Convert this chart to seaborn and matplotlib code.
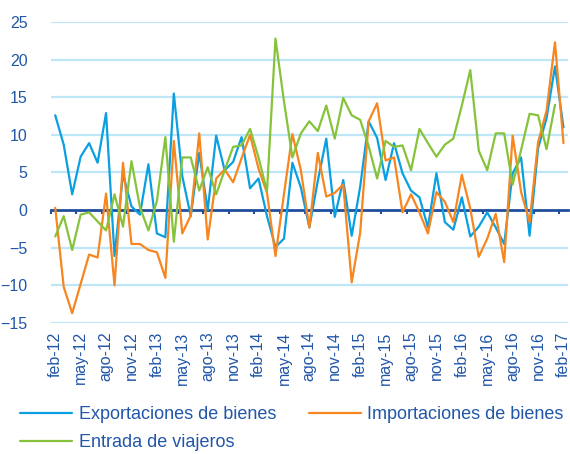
import numpy as np
import pandas as pd
import matplotlib
matplotlib.use("Agg")
import matplotlib.pyplot as plt
import seaborn as sns
from matplotlib.lines import Line2D

# ---------------- data ----------------
month_abbr = ["ene", "feb", "mar", "abr", "may", "jun", "jul", "ago", "sep", "oct", "nov", "dic"]
start_year, start_month, n_months = 2012, 2, 61

exportaciones = [12.6, 8.7, 2.1, 7.1, 8.9, 6.3, 12.9, -6.1, 4.8, 0.5,
                 -0.6, 6.1, -3.1, -3.6, 15.5, 4.5, -0.8, 7.6, 0.0, 9.9,
                 5.3, 6.4, 9.7, 2.9, 4.2, -0.8, -4.9, -3.8, 6.3, 3.0,
                 -2.3, 3.9, 9.5, -0.9, 4.0, -3.4, 3.1, 11.8, 9.6, 4.0,
                 8.9, 4.9, 2.6, 1.7, -2.3, 4.9, -1.6, -2.6, 1.7, -3.5,
                 -2.2, -0.3, -2.3, -4.5, 4.9, 7.0, -3.4, 8.2, 12.2, 19.1,
                 11.0]
importaciones = [0.3, -10.2, -13.7, -9.8, -5.9, -6.3, 2.2, -10.0, 6.3, -4.5,
                 -4.5, -5.3, -5.6, -9.0, 9.2, -3.1, -0.7, 10.2, -3.9, 4.2,
                 5.4, 3.7, 6.9, 10.0, 5.5, 2.3, -6.1, 2.1, 10.1, 5.3,
                 -2.3, 7.6, 1.8, 2.3, 3.4, -9.6, -3.0, 11.8, 14.2, 6.6,
                 7.0, -0.3, 2.1, -0.3, -3.1, 2.4, 1.1, -1.6, 4.7, 0.2,
                 -6.2, -3.8, -0.5, -6.9, 9.9, 2.4, -1.6, 9.0, 13.2, 22.3,
                 8.9]
viajeros = [-3.5, -0.8, -5.3, -0.6, -0.3, -1.5, -2.7, 2.1, -2.2, 6.5,
            0.4, -2.7, 1.2, 9.7, -4.2, 7.0, 7.0, 2.6, 5.7, 2.1,
            5.3, 8.4, 8.6, 10.8, 7.0, 2.5, 22.8, 14.5, 7.0, 10.2,
            11.8, 10.5, 13.9, 9.5, 14.9, 12.6, 12.0, 8.5, 4.2, 9.2,
            8.4, 8.6, 5.3, 10.8, 8.9, 7.1, 8.7, 9.5, 13.9, 18.6,
            7.9, 5.3, 10.2, 10.2, 3.4, 8.0, 12.8, 12.6, 8.1, 14.0,
            np.nan]

tick_labels = ["feb-12", "may-12", "ago-12", "nov-12", "feb-13", "may-13", "ago-13",
               "nov-13", "feb-14", "may-14", "ago-14", "nov-14", "feb-15", "may-15",
               "ago-15", "nov-15", "feb-16", "may-16", "ago-16", "nov-16", "feb-17"]

series_names = ["Exportaciones de bienes", "Importaciones de bienes", "Entrada de viajeros"]
series_colors = ["#0A9FE0", "#F7861E", "#86C33A"]

# categories (month labels)
categories = []
for k in range(n_months):
    m = (start_month - 1 + k) % 12
    y = start_year + (start_month - 1 + k) // 12
    categories.append(f"{month_abbr[m]}-{str(y)[2:]}")

df = pd.DataFrame({
    "pos": np.arange(n_months),
    "cat": categories,
    series_names[0]: exportaciones,
    series_names[1]: importaciones,
    series_names[2]: viajeros,
})
long = df.melt(id_vars=["pos", "cat"], var_name="serie", value_name="valor")

# ---------------- style ----------------
sns.set_style("white")
plt.rcParams["font.family"] = ["Liberation Sans", "DejaVu Sans"]
text_color = "#2156A8"
grid_color = "#BFE6F7"
axis_color = "#1F4E9C"

fig = plt.figure(figsize=(5.7, 4.54), dpi=100)
ax = fig.add_axes([51 / 570, 1 - 323 / 454, (567.7 - 51) / 570, 301 / 454])

# zero-line axis with tick marks at category boundaries (drawn below lines)
ax2 = ax.twiny()
ax2.set_zorder(ax.get_zorder() - 1)
ax.patch.set_visible(False)

sns.lineplot(data=long, x="pos", y="valor", hue="serie", hue_order=series_names,
             palette=series_colors, linewidth=1.6, ax=ax, legend=False, sort=False)

ax.set_xlim(-0.5, n_months - 0.5)
ax.set_ylim(-15, 25)
ax.set_yticks(np.arange(-15, 26, 5))
for v in np.arange(-15, 26, 5):
    if v != 0:
        ax.axhline(v, color=grid_color, linewidth=1.6, zorder=0)

ax.set_xticks(np.arange(0, n_months, 3))
ax.set_xticklabels(tick_labels, rotation=90)
ax.tick_params(axis="x", length=0, pad=6, labelsize=11.5, labelcolor=text_color)
ax.tick_params(axis="y", length=0, pad=17, labelsize=11.5, labelcolor=text_color)
for lab in ax.get_yticklabels():
    lab.set_horizontalalignment("right")
ax.set_xlabel("")
ax.set_ylabel("")
for s in ax.spines.values():
    s.set_visible(False)

ax2.set_xlim(ax.get_xlim())
for name, s in ax2.spines.items():
    s.set_visible(name == "bottom")
ax2.spines["bottom"].set_position(("data", 0))
ax2.spines["bottom"].set_color(axis_color)
ax2.spines["bottom"].set_linewidth(2.0)
ax2.xaxis.set_ticks_position("bottom")
ax2.set_xticks(np.arange(-0.5, n_months - 0.5, 3))
ax2.set_xticklabels([])
ax2.tick_params(axis="x", direction="out", length=3, width=1.5, color=axis_color)

# legend: row 1 Exportaciones / Importaciones, row 2 Entrada (column-major fill)
order = [0, 2, 1]
handles = [Line2D([0], [0], color=series_colors[i], linewidth=1.6) for i in order]
labels = [series_names[i] for i in order]
fig.legend(handles, labels, loc="upper left", bbox_to_anchor=(20 / 570, 1 - 406 / 454),
           ncol=2, frameon=False, fontsize=13, labelcolor=text_color,
           handlelength=2.9, handletextpad=0.35, columnspacing=1.8, labelspacing=0.62,
           borderaxespad=0, borderpad=0)

fig.savefig("out.png", dpi=100)
